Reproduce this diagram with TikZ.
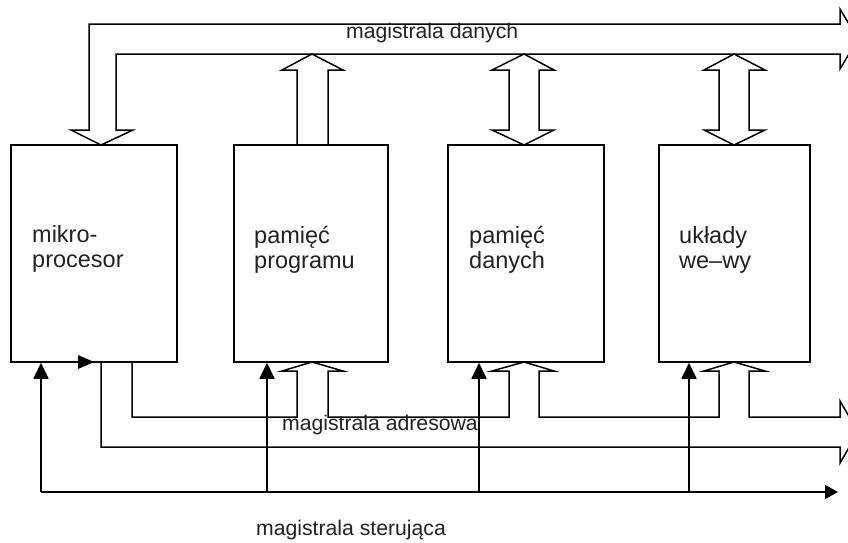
\documentclass[tikz,border=0pt]{standalone}
\usepackage{fontspec}
\setmainfont{Liberation Sans}
\usetikzlibrary{arrows.meta}
\definecolor{ink}{rgb}{0.13,0.13,0.13}
\begin{document}
\begin{tikzpicture}[x=1pt,y=-1pt,
  unit/.style={draw, line width=1.5pt, minimum height=217pt, inner sep=0pt, minimum width=#1},
  bus/.style={draw, line width=1.5pt, line join=miter},
  ctl/.style={line width=1.7pt, -{Triangle[length=16pt,width=15pt]}},
  lbl/.style={font=\fontsize{21.2}{25}\selectfont, text=ink, align=left, inner sep=0pt},
  unitlbl/.style={lbl, font=\fontsize{23.5}{25}\selectfont},
]
\useasboundingbox (0,0) rectangle (848,542);
\clip (0,0) rectangle (848,542);

% functional units
\node[unit=166pt] (b1) at (94,253.5) {};
\node[unit=154pt] (b2) at (311,253.5) {};
\node[unit=156pt] (b3) at (526,253.5) {};
\node[unit=151pt] (b4) at (734.5,253.5) {};

% unit names (base anchor sits on the last line)
\node[unitlbl, anchor=base west] (tb1) at (32,267) {mikro-\\procesor};
\node[unitlbl, anchor=base west] (tb2) at (254,268) {pamięć\\programu};
\node[unitlbl, anchor=base west] (tb3) at (469,268) {pamięć\\danych};
\node[unitlbl, anchor=base west] (tb4) at (679,268) {układy\\we–wy};

% data bus (hollow arrow) with the branch down into the processor
\draw[bus] (89,130) -- (89,24) -- (840,24) -- (840,9) -- (858,39) -- (840,69)
  -- (840,54) -- (116,54) -- (116,130) -- (133,130) -- (101,145) -- (71,130) -- cycle;
% program memory -> data bus
\draw[bus] (297,145) -- (297,70) -- (282,70) -- (312,54) -- (343,70) -- (328,70) -- (328,145);
% data memory <-> data bus
\draw[bus] (509,70) -- (492,70) -- (524,54) -- (554,70) -- (539,70) -- (539,130)
  -- (554,130) -- (524,145) -- (492,130) -- (509,130) -- cycle;
% I/O <-> data bus
\draw[bus] (719,70) -- (704,70) -- (734,54) -- (765,70) -- (749,70) -- (749,130)
  -- (765,130) -- (734,145) -- (704,130) -- (719,130) -- cycle;
\node[lbl, anchor=base west] (ld) at (346,38) {magistrala danych};

% address bus (hollow arrow) with branches up into the memories and I/O
\draw[bus] (101,362) -- (101,447) -- (840,447) -- (840,463) -- (858,432) -- (840,401)
  -- (840,417) -- (749,417) -- (749,371) -- (765,371) -- (734,362) -- (704,371)
  -- (719,371) -- (719,417) -- (539,417) -- (539,371) -- (554,371) -- (524,362)
  -- (492,371) -- (509,371) -- (509,417) -- (328,417) -- (328,371) -- (343,371)
  -- (312,362) -- (282,371) -- (297,371) -- (297,417) -- (132,417) -- (132,362);
\node[lbl, anchor=base west] (la) at (282,430) {magistrala adresowa};

% small marker on the processor's lower edge
\fill (78,355) -- (94,362) -- (78,369) -- cycle;

% control bus
\coordinate (k1) at (41,492);
\coordinate (k2) at (267,492);
\coordinate (k3) at (479,492);
\coordinate (k4) at (689,492);
\coordinate (kend) at (838,492);
\draw[line width=1.7pt, -{Triangle[length=13pt,width=14pt]}] (k1) -- (kend);
\draw[ctl] (k1) -- (k1 |- b1.south);
\draw[ctl] (k2) -- (k2 |- b2.south);
\draw[ctl] (k3) -- (k3 |- b3.south);
\draw[ctl] (k4) -- (k4 |- b4.south);
\node[lbl, anchor=base west] (ls) at (256,535) {magistrala sterująca};
\end{tikzpicture}
\end{document}
